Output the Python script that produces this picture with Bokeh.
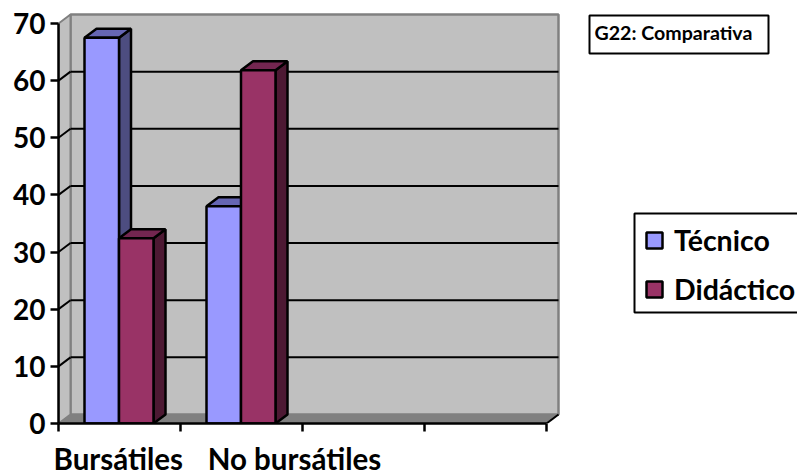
from bokeh.embed import file_html
from bokeh.resources import INLINE
from bokeh.models import (BoxAnnotation, FixedTicker, Label, Legend, LegendItem,
                          LinearAxis, Range1d)
from bokeh.plotting import figure

categories = ["Bursátiles", "No bursátiles"]
tecnico = [67.5, 38]
didactico = [32.4, 61.8]
y_ticks = [0, 10, 20, 30, 40, 50, 60, 70]
x_ticks = [0, 1, 2, 3, 4]
label_positions = [0.49, 1.934]

# pixel scale of the plot frame and oblique depth of the 3D projection
PX_X = 122.0
PX_Y = 400.0 / 70.0
DX = 12.0 / PX_X
DY = 9.0 / PX_Y
BAR_LEFT = 26.0 / PX_X
BAR_W = 34.5 / PX_X
FRAME_W = 739
FRAME_H = 423

p = figure(width=797, height=470, output_backend="svg", toolbar_location=None,
           x_axis_type=None, y_axis_type=None,
           x_range=Range1d(0, FRAME_W / PX_X), y_range=Range1d(0, FRAME_H / PX_Y),
           frame_width=FRAME_W, frame_height=FRAME_H,
           min_border_left=58, min_border_right=0, min_border_top=0, min_border_bottom=47,
           outline_line_color=None, background_fill_color="white")
p.grid.visible = False

# wall and floor of the chart box
wall_l, wall_r = DX, 4 + DX
p.quad(left=[wall_l], right=[wall_r], bottom=[DY], top=[70 + DY], fill_color="#C0C0C0",
       line_color="#808080", line_width=2.5)
p.patch([0, DX, DX, 0], [0, DY, 70 + DY, 70], fill_color="#C0C0C0", line_color="#808080", line_width=2)
p.patch([0, 4, 4 + DX, DX], [0, 0, DY, DY], fill_color="#808080", line_color="#808080", line_width=1)

# gridlines run along the back wall and step down the side wall
for t in y_ticks[1:-1]:
    p.line([wall_l, wall_r], [t + DY, t + DY], line_color="black", line_width=2)
    p.line([0, DX], [t, t + DY], line_color="black", line_width=2)
p.line([4, 4 + DX], [0, DY], line_color="black", line_width=2)


def bar3d(x0, v, front, top, side):
    x1 = x0 + BAR_W
    p.patch([x1, x1 + DX, x1 + DX, x1], [0, DY, v + DY, v], fill_color=side, line_color="black", line_width=2.5)
    p.patch([x0, x1, x1 + DX, x0 + DX], [v, v, v + DY, v + DY], fill_color=top, line_color="black", line_width=2.5)
    return p.quad(left=[x0], right=[x1], bottom=[0], top=[v], fill_color=front, line_color="black", line_width=2.5)


tec_r = did_r = None
for i in range(len(categories)):
    x0 = i + BAR_LEFT
    tec_r = bar3d(x0, tecnico[i], "#9999FF", "#6666B3", "#4D4D80")
    did_r = bar3d(x0 + BAR_W, didactico[i], "#993366", "#732650", "#4D1933")

yaxis = LinearAxis(ticker=FixedTicker(ticks=y_ticks), bounds=(0, 70),
                   axis_line_color="black", axis_line_width=2.5,
                   major_tick_line_color="black", major_tick_line_width=2.5,
                   major_tick_out=8, major_tick_in=0, minor_tick_line_color=None,
                   major_label_text_font="Lato", major_label_text_font_style="bold",
                   major_label_text_font_size="28px", major_label_text_color="black",
                   major_label_standoff=5)
p.add_layout(yaxis, "left")

# category names sit on major ticks; the visible tick marks are the minor ones
xaxis = LinearAxis(ticker=FixedTicker(ticks=label_positions, minor_ticks=x_ticks), bounds=(0, 4),
                   axis_line_color="black", axis_line_width=2.5,
                   major_tick_line_color=None, major_tick_out=0, major_tick_in=0,
                   minor_tick_line_color="black", minor_tick_line_width=2.5,
                   minor_tick_out=8, minor_tick_in=0,
                   major_label_overrides=dict(zip(label_positions, categories)),
                   major_label_text_font="Lato", major_label_text_font_style="bold",
                   major_label_text_font_size="29.5px", major_label_text_color="black",
                   major_label_standoff=9)
p.add_layout(xaxis, "below")

# legend frame runs off the right edge of the page, so it is drawn separately
p.add_layout(BoxAnnotation(left=576, right=760, top=210, bottom=111,
                           left_units="screen", right_units="screen", top_units="screen",
                           bottom_units="screen", fill_color="white", fill_alpha=1,
                           line_color="black", line_alpha=1, line_width=2))
legend = Legend(items=[LegendItem(label="Técnico", renderers=[tec_r]),
                       LegendItem(label="Didáctico", renderers=[did_r])],
                location=(586, 117), orientation="vertical", margin=0,
                border_line_color=None, background_fill_alpha=0,
                glyph_width=20, glyph_height=20, label_text_font="Lato",
                label_text_font_style="bold", label_text_font_size="28.5px",
                label_text_color="black", label_standoff=10, spacing=15, padding=8)
p.add_layout(legend, "center")

# caption box beside the plot
p.add_layout(BoxAnnotation(left=531, right=710, top=408, bottom=370,
                           left_units="screen", right_units="screen", top_units="screen",
                           bottom_units="screen", fill_color="white", fill_alpha=1,
                           line_color="black", line_alpha=1, line_width=2))
p.add_layout(Label(x=536, y=391, x_units="screen", y_units="screen", text="G22: Comparativa",
                   text_baseline="middle", text_font="Lato", text_font_style="bold",
                   text_font_size="19.6px", text_color="black"))

open("out.html", "w").write(file_html(p, INLINE))
